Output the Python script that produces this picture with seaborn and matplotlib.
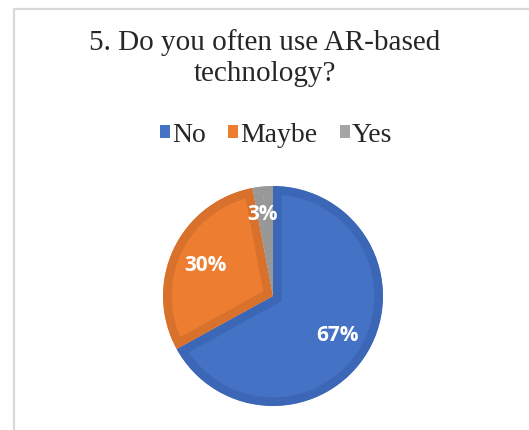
import matplotlib
matplotlib.use("Agg")
import matplotlib.pyplot as plt
import seaborn as sns
from matplotlib.lines import Line2D
from matplotlib.patches import Patch

# Survey answers
answers = ["No", "Maybe", "Yes"]
shares = [67, 30, 3]
fill_colors = ["#4472C4", "#ED7D31", "#A5A5A5"]
edge_colors = ["#3C67B6", "#D8712C", "#989898"]
title = "5. Do you often use AR-based\ntechnology?"

sns.set_theme(style="white")
plt.rcParams["font.family"] = ["Liberation Serif", "DejaVu Serif"]

W, H = 529, 431
fig = plt.figure(figsize=(W / 100, H / 100), dpi=100)
fig.patch.set_facecolor("white")

# chart border (only top and left visible in the crop)
fig.add_artist(Line2D([13.5 / W, 13.5 / W], [0, 1 - 10 / H], transform=fig.transFigure,
                      color="#d9d9d9", lw=1.6))
fig.add_artist(Line2D([13.5 / W, 1], [1 - 10 / H, 1 - 10 / H], transform=fig.transFigure,
                      color="#d9d9d9", lw=1.6))

# pie axes: centre (273, 297) px, radius 110 px
cx, cy, r = 273, 297, 110
ax = fig.add_axes([(cx - r) / W, (H - cy - r) / H, 2 * r / W, 2 * r / H])

wedges, texts, autotexts = ax.pie(
    shares, colors=fill_colors, startangle=90, counterclock=False,
    autopct="%d%%", pctdistance=0.68,
    wedgeprops=dict(edgecolor="none"),
    textprops=dict(color="white", fontsize=15, fontweight="bold", family="Open Sans"),
)
# darker inner border like the Excel style (edge clipped to the wedge itself)
for w, ec in zip(wedges, edge_colors):
    w.set_edgecolor(ec)
    w.set_linewidth(12.5)
    w.set_clip_on(True)
    w.set_clip_path(w)
ax.set_xlim(-1, 1)
ax.set_ylim(-1, 1)
ax.set_aspect("equal")

# the small slice label sits a bit higher
x, y = autotexts[2].get_position()
autotexts[2].set_position((x - 0.03, y + 0.07))

fig.text(0.5, 1 - 58 / H, title, ha="center", va="center", fontsize=21,
         color="#262626", linespacing=1.25)

handles = [Patch(facecolor=c, edgecolor="none") for c in fill_colors]
fig.legend(handles, answers, loc="center", bbox_to_anchor=(276 / W, 1 - 136 / H),
           ncol=3, frameon=False, fontsize=20, handlelength=0.36, handleheight=0.36,
           handletextpad=0.08, columnspacing=0.8, borderpad=0)

fig.savefig("out.png", dpi=100, facecolor="white")
